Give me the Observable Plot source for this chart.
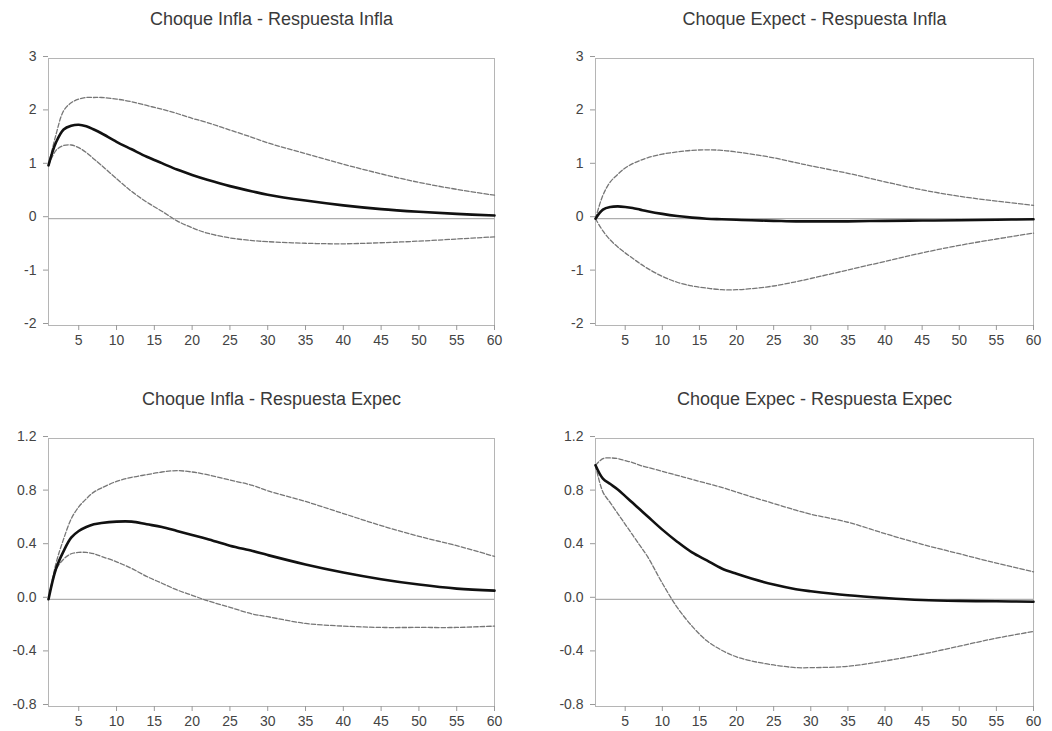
<!DOCTYPE html>
<html>
<head>
<meta charset="utf-8">
<script src="https://cdn.jsdelivr.net/npm/d3@7"></script>
<script src="https://cdn.jsdelivr.net/npm/@observablehq/plot@0.6"></script>
<style>
  html, body { margin: 0; padding: 0; background: #fff; }
  #wrap { position: relative; width: 1052px; height: 731px; overflow: hidden; background: #fff; }
  .panel { position: absolute; }
</style>
</head>
<body>
<div id="wrap"></div>
<script>
// ---- data ----
const periods = [1,2,3,4,5,6,7,8,10,12,14,16,18,20,22,25,28,30,35,40,45,50,55,60];
const xTicks = [5,10,15,20,25,30,35,40,45,50,55,60];
const yTicksTop = [-2,-1,0,1,2,3];
const yTicksBottom = [-0.8,-0.4,0,0.4,0.8,1.2];
const titles = [
  "Choque Infla - Respuesta Infla",
  "Choque Expect - Respuesta Infla",
  "Choque Infla - Respuesta Expec",
  "Choque Expec - Respuesta Expec"
];

// Panel 1: Choque Infla - Respuesta Infla
const infInfMain  = [1.0,1.43,1.67,1.74,1.76,1.73,1.67,1.60,1.44,1.30,1.16,1.04,0.92,0.82,0.73,0.61,0.51,0.45,0.34,0.25,0.18,0.13,0.09,0.06];
const infInfUpper = [1.0,1.58,2.02,2.17,2.24,2.27,2.27,2.27,2.24,2.19,2.12,2.05,1.97,1.88,1.80,1.66,1.52,1.42,1.22,1.02,0.84,0.68,0.55,0.44];
const infInfLower = [1.0,1.28,1.37,1.38,1.33,1.24,1.12,1.00,0.75,0.51,0.31,0.14,-0.04,-0.17,-0.27,-0.36,-0.41,-0.43,-0.46,-0.47,-0.45,-0.42,-0.38,-0.34];

// Panel 2: Choque Expect - Respuesta Infla
const expInfMain  = [0.0,0.17,0.22,0.23,0.22,0.20,0.17,0.14,0.09,0.05,0.02,0.0,-0.01,-0.02,-0.03,-0.04,-0.05,-0.05,-0.05,-0.04,-0.035,-0.03,-0.02,-0.01];
const expInfUpper = [0.0,0.44,0.69,0.83,0.95,1.03,1.09,1.14,1.21,1.25,1.28,1.29,1.28,1.25,1.21,1.14,1.05,0.99,0.85,0.69,0.54,0.42,0.33,0.25];
const expInfLower = [0.0,-0.23,-0.40,-0.53,-0.64,-0.74,-0.84,-0.93,-1.08,-1.19,-1.26,-1.30,-1.33,-1.33,-1.31,-1.26,-1.18,-1.12,-0.96,-0.80,-0.64,-0.50,-0.38,-0.27];

// Panel 3: Choque Infla - Respuesta Expec
const infExpMain  = [0.0,0.23,0.36,0.46,0.51,0.54,0.56,0.57,0.58,0.58,0.56,0.54,0.51,0.48,0.45,0.40,0.36,0.33,0.26,0.20,0.15,0.11,0.08,0.065];
const infExpUpper = [0.0,0.27,0.45,0.60,0.69,0.75,0.80,0.83,0.88,0.91,0.93,0.95,0.96,0.95,0.93,0.89,0.85,0.81,0.73,0.64,0.55,0.47,0.40,0.32];
const infExpLower = [0.0,0.22,0.30,0.34,0.35,0.35,0.34,0.32,0.28,0.23,0.17,0.12,0.07,0.03,-0.01,-0.06,-0.11,-0.13,-0.18,-0.20,-0.21,-0.21,-0.21,-0.20];

// Panel 4: Choque Expec - Respuesta Expec
const expExpMain  = [1.0,0.90,0.86,0.82,0.77,0.72,0.67,0.62,0.52,0.43,0.35,0.29,0.23,0.19,0.155,0.11,0.075,0.06,0.03,0.01,-0.005,-0.012,-0.015,-0.018];
const expExpUpper = [1.0,1.05,1.055,1.05,1.035,1.02,1.0,0.985,0.955,0.925,0.895,0.865,0.835,0.80,0.765,0.715,0.665,0.635,0.575,0.49,0.41,0.34,0.27,0.205];
const expExpLower = [1.0,0.80,0.72,0.64,0.56,0.48,0.40,0.32,0.12,-0.06,-0.20,-0.31,-0.38,-0.43,-0.46,-0.49,-0.51,-0.51,-0.50,-0.46,-0.41,-0.35,-0.29,-0.24];

// ---- drawing ----
const fmtInt = d => String(d);
const fmtDec = d => d.toFixed(1);

function panel(o) {
  const rows = periods.map((t, i) => ({t, main: o.main[i], upper: o.upper[i], lower: o.lower[i]}));
  const band = {x: "t", stroke: "#767676", strokeWidth: 1.3, strokeDasharray: "4.5,2", curve: "catmull-rom"};
  return Plot.plot({
    width: o.width, height: o.height,
    marginLeft: o.ml, marginRight: o.mr, marginTop: o.mt, marginBottom: o.mb,
    style: {fontFamily: "'Liberation Sans', Arial, sans-serif", fontSize: "14px", color: "#444", background: "#fff"},
    x: {domain: [1, 60]},
    y: {domain: o.yDomain},
    marks: [
      Plot.frame({stroke: "#b5b5b5"}),
      Plot.ruleY([0], {stroke: "#9a9a9a", strokeWidth: 1}),
      Plot.line(rows, {...band, y: "upper"}),
      Plot.line(rows, {...band, y: "lower"}),
      Plot.line(rows, {x: "t", y: "main", stroke: "#111", strokeWidth: 2.6, curve: "catmull-rom"}),
      Plot.axisX(xTicks, {tickSize: 5, tickPadding: 5, stroke: "#999", fill: "#444", label: null, tickFormat: fmtInt, fontSize: 14}),
      Plot.axisY(o.yTicks, {tickSize: 5, tickPadding: 7, stroke: "#999", fill: "#444", label: null, tickFormat: o.fmt, fontSize: 14, dy: -2}),
      Plot.text([o.title], {text: d => d, frameAnchor: "top", dy: -46, fontSize: 18, fill: "#3a3a3a"})
    ]
  });
}

const wrap = document.getElementById("wrap");
const specs = [
  {left: 0,   top: 0,   width: 520, height: 360, ml: 48, mr: 26, mt: 58, mb: 35,
   title: titles[0], main: infInfMain, upper: infInfUpper, lower: infInfLower, yDomain: [-2, 3], yTicks: yTicksTop, fmt: fmtInt},
  {left: 520, top: 0,   width: 532, height: 360, ml: 75, mr: 19, mt: 58, mb: 35,
   title: titles[1], main: expInfMain, upper: expInfUpper, lower: expInfLower, yDomain: [-2, 3], yTicks: yTicksTop, fmt: fmtInt},
  {left: 0,   top: 380, width: 520, height: 351, ml: 48, mr: 26, mt: 58, mb: 25,
   title: titles[2], main: infExpMain, upper: infExpUpper, lower: infExpLower, yDomain: [-0.8, 1.2], yTicks: yTicksBottom, fmt: fmtDec},
  {left: 520, top: 380, width: 532, height: 351, ml: 75, mr: 19, mt: 58, mb: 25,
   title: titles[3], main: expExpMain, upper: expExpUpper, lower: expExpLower, yDomain: [-0.8, 1.2], yTicks: yTicksBottom, fmt: fmtDec}
];
for (const s of specs) {
  const div = document.createElement("div");
  div.className = "panel";
  div.style.left = s.left + "px";
  div.style.top = s.top + "px";
  div.appendChild(panel(s));
  wrap.appendChild(div);
}
</script>
</body>
</html>
